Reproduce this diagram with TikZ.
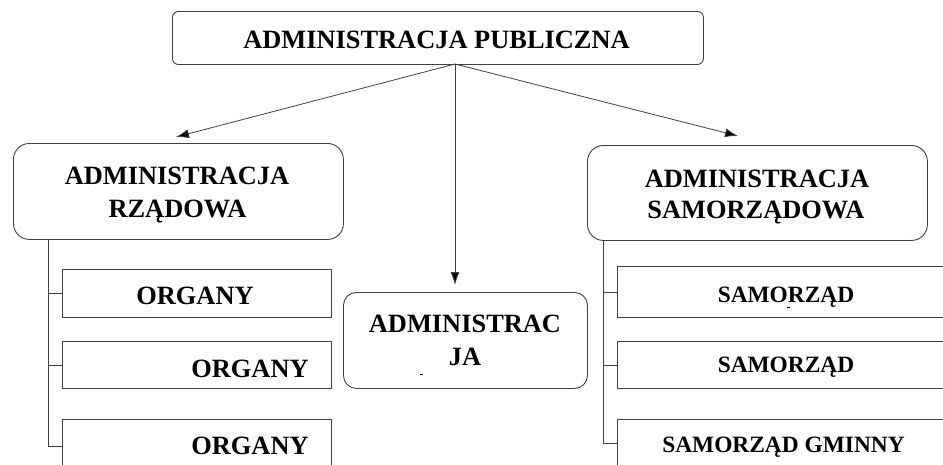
\documentclass[tikz,border=0pt]{standalone}
\usepackage{fontspec}
\setmainfont{Liberation Serif}
\usetikzlibrary{arrows.meta}
\tikzset{
  boxline/.style={draw=black!75, line width=0.9pt},
  rbox/.style={boxline, rectangle, rounded corners=#1, inner sep=0pt, anchor=north west},
  sbox/.style={boxline, rectangle, inner sep=0pt, anchor=north west},
  lbl/.style={font=\fontsize{26.4}{30}\selectfont\bfseries, inner sep=0pt, anchor=base},
  slbl/.style={font=\fontsize{23.4}{28}\selectfont\bfseries, inner sep=0pt, anchor=base},
  conn/.style={draw=black!75, line width=0.8pt},
  arr/.style={conn, -{Latex[length=13pt,width=9pt,fill=black]}},
}
\begin{document}
\begin{tikzpicture}[x=1pt,y=-1pt]
\clip (0,0) rectangle (943,464);
\fill[white] (0,0) rectangle (943,464);
% boxes
\node[rbox=6pt, minimum width=531pt, minimum height=53pt] (root) at (172,11) {};
\node[rbox=16pt, minimum width=330pt, minimum height=96pt] (lbox) at (13,143) {};
\node[rbox=16pt, minimum width=340pt, minimum height=95pt] (rbox) at (587,145) {};
\node[rbox=13pt, minimum width=244pt, minimum height=96pt] (cbox) at (343,292) {};
\node[sbox, minimum width=269pt, minimum height=48pt] (org1) at (62,269) {};
\node[sbox, minimum width=269pt, minimum height=47pt] (org2) at (62,341) {};
\node[sbox, minimum width=269pt, minimum height=54pt] (org3) at (62,419) {};
\node[sbox, minimum width=360pt, minimum height=51pt] (sam1) at (617,266) {};
\node[sbox, minimum width=360pt, minimum height=47pt] (sam2) at (617,341) {};
\node[sbox, minimum width=360pt, minimum height=48pt] (sam3) at (617,419) {};
% texts
\node[lbl] (trootl) at (436.5,48) {ADMINISTRACJA PUBLICZNA};
\node[lbl] (tl1) at (177,184) {ADMINISTRACJA};
\node[lbl] (tl2) at (177.5,217) {RZĄDOWA};
\node[lbl] (tr1) at (757,187) {ADMINISTRACJA};
\node[lbl] (tr2) at (756,218) {SAMORZĄDOWA};
\node[lbl] (tc1) at (465,332) {ADMINISTRAC};
\node[lbl] (tc2) at (465,365) {JA};
\node[lbl] (to1) at (195,304) {ORGANY};
\node[lbl] (to2) at (250,377) {ORGANY};
\node[lbl] (to3) at (250,454) {ORGANY};
\node[slbl] (ts1) at (786,302) {SAMORZĄD};
\node[slbl] (ts2) at (786,372) {SAMORZĄD};
\node[slbl] (ts3) at (783.5,452) {SAMORZĄD GMINNY};
% small marks
\coordinate (m1a) at (420,374); \coordinate (m1b) at (423,374);
\coordinate (m2a) at (787,307); \coordinate (m2b) at (790,307);
\draw[line width=0.7pt] (m1a) -- (m1b);
\draw[line width=0.7pt] (m2a) -- (m2b);
% arrows
\coordinate (rs) at (455,64);
\coordinate (lt) at (176,137);
\coordinate (rt) at (738,136);
\coordinate (ct) at (455,285);
\draw[arr] (rs) -- (lt);
\draw[arr] (rs) -- (rt);
\draw[arr] (rs) -- (ct);
% trunks
\coordinate (trL) at (48,239);
\coordinate (trR) at (603,240);
\draw[conn] (trL) |- (org1.west);
\draw[conn] (trL) |- (org2.west);
\draw[conn] (trL) |- (org3.west);
\draw[conn] (trR) |- (sam1.west);
\draw[conn] (trR) |- (sam2.west);
\draw[conn] (trR) |- (sam3.west);
\end{tikzpicture}
\end{document}
